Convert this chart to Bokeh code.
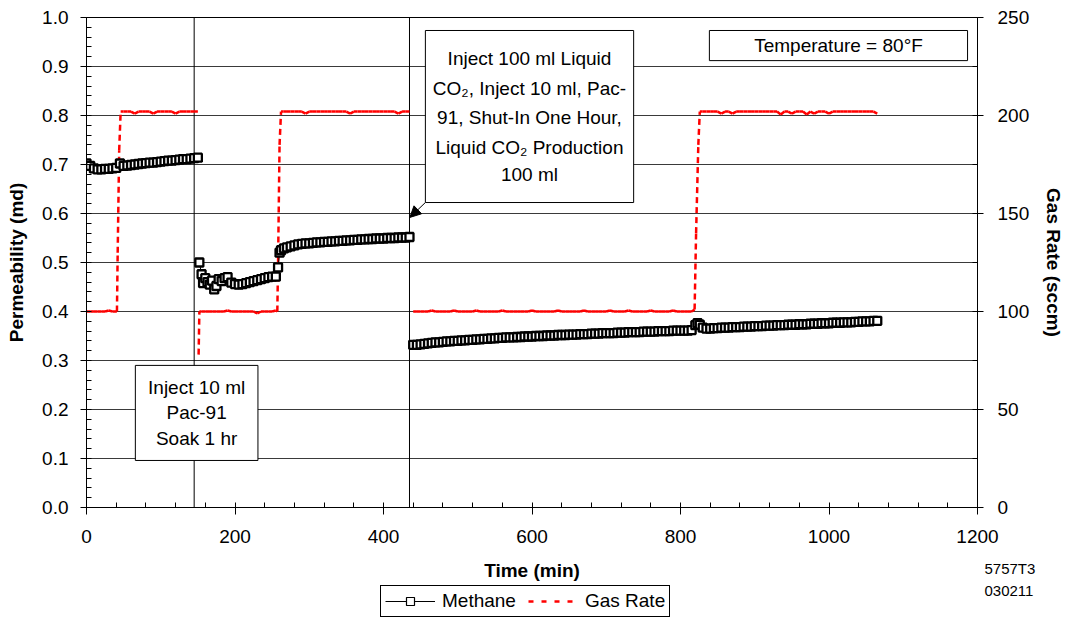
from bokeh.plotting import figure
from bokeh.layouts import column
from bokeh.models import (Range1d, LinearAxis, SingleIntervalTicker, PrintfTickFormatter,
                          FixedTicker, Span, BoxAnnotation, Label, Arrow, NormalHead, Legend,
                          LegendItem, ColumnDataSource)
from bokeh.embed import file_html
from bokeh.resources import INLINE

# ---------------- data ----------------
# Methane permeability (md), three test periods
meth1_t = [0, 5, 10, 15, 20, 25, 30, 35, 40, 45, 50, 55, 60, 65, 70, 75, 80, 85, 90, 95,
           100, 105, 110, 115, 120, 125, 130, 135, 140, 145, 150]
meth1_k = [0.702, 0.697, 0.692, 0.690, 0.690, 0.691, 0.691, 0.692, 0.693, 0.702,
           0.697, 0.698, 0.699, 0.700, 0.701, 0.702, 0.703, 0.704, 0.704, 0.705,
           0.706, 0.707, 0.708, 0.708, 0.709, 0.710, 0.711, 0.711, 0.712, 0.713, 0.714]

meth2_t = [152, 155, 157, 160, 163, 166, 169, 172, 175, 178,
           182, 186, 190, 195, 200, 205, 210, 215, 220, 225,
           230, 235, 240, 245, 250, 255, 258, 260, 262, 266,
           270, 275, 280, 285,
           290, 295, 300, 305, 310, 315, 320, 325, 330, 335,
           340, 345, 350, 355, 360, 365, 370, 375, 380, 385,
           390, 395, 400, 405, 410, 415, 420, 425, 430, 435]
meth2_k = [0.500, 0.476, 0.458, 0.468, 0.460, 0.455, 0.463, 0.445, 0.452, 0.466,
           0.462, 0.468, 0.470, 0.459, 0.456, 0.455, 0.456, 0.458, 0.460, 0.462,
           0.464, 0.466, 0.468, 0.470, 0.471, 0.471, 0.490, 0.520, 0.525, 0.529,
           0.531, 0.533, 0.535, 0.537,
           0.538, 0.539, 0.539, 0.540, 0.541, 0.541, 0.542, 0.542, 0.543, 0.543,
           0.544, 0.544, 0.545, 0.545, 0.546, 0.546, 0.547, 0.547, 0.548, 0.548,
           0.549, 0.549, 0.549, 0.550, 0.550, 0.550, 0.551, 0.551, 0.551, 0.552]

meth3_t = [440, 445, 450, 455, 460, 465, 470, 475, 480, 485,
           490, 495, 500, 505, 510, 515, 520, 525, 530, 535,
           540, 545, 550, 555, 560, 565, 570, 575, 580, 585,
           590, 595, 600, 605, 610, 615, 620, 625, 630, 635,
           640, 645, 650, 655, 660, 665, 670, 675, 680, 685,
           690, 695, 700, 705, 710, 715, 720, 725, 730, 735,
           740, 745, 750, 755, 760, 765, 770, 775, 780, 785,
           790, 795, 800, 805, 810, 815,
           820, 823, 826,
           830, 835, 840, 845, 850, 855, 860, 865, 870, 875,
           880, 885, 890, 895, 900, 905, 910, 915, 920, 925,
           930, 935, 940, 945, 950, 955, 960, 965, 970, 975,
           980, 985, 990, 995, 1000, 1005, 1010, 1015, 1020, 1025,
           1030, 1035, 1040, 1045, 1050, 1055, 1060, 1065]
meth3_k = [0.332, 0.332, 0.333, 0.334, 0.335, 0.336, 0.337, 0.337, 0.338, 0.339,
           0.339, 0.340, 0.340, 0.341, 0.341, 0.342, 0.342, 0.343, 0.343, 0.344,
           0.344, 0.345, 0.345, 0.346, 0.346, 0.347, 0.347, 0.347, 0.348, 0.348,
           0.349, 0.349, 0.349, 0.350, 0.350, 0.350, 0.351, 0.351, 0.351, 0.352,
           0.352, 0.352, 0.353, 0.353, 0.353, 0.354, 0.354, 0.354, 0.355, 0.355,
           0.355, 0.356, 0.356, 0.356, 0.356, 0.357, 0.357, 0.357, 0.358, 0.358,
           0.358, 0.358, 0.359, 0.359, 0.359, 0.359, 0.360, 0.360, 0.360, 0.360,
           0.361, 0.361, 0.361, 0.361, 0.361, 0.362,
           0.372, 0.376, 0.373,
           0.367, 0.365, 0.365, 0.366, 0.366, 0.367, 0.367, 0.367, 0.368, 0.368,
           0.368, 0.369, 0.369, 0.369, 0.370, 0.370, 0.370, 0.371, 0.371, 0.371,
           0.372, 0.372, 0.372, 0.373, 0.373, 0.373, 0.374, 0.374, 0.374, 0.375,
           0.375, 0.375, 0.376, 0.376, 0.376, 0.377, 0.377, 0.377, 0.378, 0.378,
           0.378, 0.379, 0.379, 0.380, 0.380, 0.380, 0.381, 0.381]

# Gas rate (sccm), three periods
gas1_t = [0, 5, 10, 15, 20, 25, 30, 35, 40,
          41, 42, 44, 46,
          50, 55, 60, 65, 70, 75, 80, 85, 90, 95,
          100, 105, 110, 115, 120, 125, 130, 135, 140, 145, 150]
gas1_q = [100, 100, 100, 100, 100, 100, 100.5, 100, 100,
          100, 130, 182, 202,
          202, 202, 202, 201, 202, 202, 202, 202, 201, 202,
          202, 202, 202, 202, 201, 202, 202, 202, 202, 202, 202]

gas2_t = [151, 152,
          155, 160, 165, 170, 175, 180, 185, 190, 195, 200,
          205, 210, 215, 220, 225, 230, 235, 240, 245, 250, 255,
          257, 258, 260, 262, 265,
          270, 275, 280, 285, 290, 295, 300, 305, 310, 315,
          320, 325, 330, 335, 340, 345, 350, 355, 360, 365,
          370, 375, 380, 385, 390, 395, 400, 405, 410, 415,
          420, 425, 430, 435]
gas2_q = [78, 100,
          100, 100, 100, 100, 100, 100, 100, 100.5, 100, 100,
          100, 100, 100, 100, 100, 99, 100, 100, 100, 100, 100.5,
          100, 125, 185, 202, 202,
          202, 202, 202, 202, 202, 201, 202, 202, 202, 202,
          202, 202, 202, 202, 202, 202, 202, 201, 202, 202,
          202, 202, 202, 202, 202, 202, 202, 202, 202, 202,
          201, 202, 202, 202]

gas3_t = [440, 445, 450, 455, 460, 465, 470, 475, 480, 485,
          490, 495, 500, 505, 510, 515, 520, 525, 530, 535,
          540, 545, 550, 555, 560, 565, 570, 575, 580, 585,
          590, 595, 600, 605, 610, 615, 620, 625, 630, 635,
          640, 645, 650, 655, 660, 665, 670, 675, 680, 685,
          690, 695, 700, 705, 710, 715, 720, 725, 730, 735,
          740, 745, 750, 755, 760, 765, 770, 775, 780, 785,
          790, 795, 800, 805, 810, 815,
          819, 821, 824, 826,
          830, 835, 840, 845, 850, 855, 860, 865, 870, 875,
          880, 885, 890, 895, 900, 905, 910, 915, 920, 925,
          930, 935, 940, 945, 950, 955, 960, 965, 970, 975,
          980, 985, 990, 995, 1000, 1005, 1010, 1015, 1020, 1025,
          1030, 1035, 1040, 1045, 1050, 1055, 1060, 1065]
gas3_q = [100, 100, 100, 100, 100, 100.5, 100, 100, 100, 100,
          100, 100.5, 100, 100, 100, 100, 100, 100.5, 100, 100,
          100, 100, 100, 100, 100.5, 100, 100, 100, 100, 100,
          100, 100, 100.5, 100, 100, 100, 100, 100, 100, 100.5,
          100, 100, 100, 100, 100, 100, 100.5, 100, 100, 100,
          100, 100, 100, 100.5, 100, 100, 100, 100, 100.5, 100,
          100, 100, 100, 100, 100.5, 100, 100, 100, 100, 100,
          100.5, 100, 100, 100, 100, 100,
          101, 140, 185, 202,
          202, 202, 202, 202, 202, 201, 202, 202, 201, 202,
          202, 202, 202, 202, 202, 202, 202, 202, 202, 202,
          202, 200.5, 202, 202, 201, 202, 202, 202, 200.5, 202,
          201, 202, 202, 202, 201, 202, 202, 202, 202, 202,
          202, 202, 202, 202, 202, 202, 202, 201]

event_times = [145, 435]
drawing_id = ["5757T3", "030211"]
FONT = "Liberation Sans"

# ---------------- main figure ----------------
p = figure(width=1067, height=554, x_range=Range1d(0, 1200), y_range=Range1d(0, 1.0),
           output_backend="svg", toolbar_location=None,
           min_border_left=86, min_border_right=87, min_border_top=17, min_border_bottom=47,
           background_fill_color="white", border_fill_color="white")
p.outline_line_color = "black"
p.outline_line_width = 1
p.xgrid.visible = False

yticker = SingleIntervalTicker(interval=0.1, num_minor_ticks=5)
p.yaxis.ticker = yticker
p.ygrid.ticker = yticker
p.ygrid.grid_line_color = "#3a3a3a"
p.ygrid.grid_line_width = 1
p.yaxis.formatter = PrintfTickFormatter(format="%.1f")
p.xaxis.ticker = SingleIntervalTicker(interval=200, num_minor_ticks=5)

p.extra_y_ranges = {"gas": Range1d(0, 250)}
ax_r = LinearAxis(y_range_name="gas", ticker=SingleIntervalTicker(interval=50, num_minor_ticks=2))
p.add_layout(ax_r, "right")

for ax in [p.xaxis[0], p.yaxis[0], ax_r]:
    ax.axis_line_color = "black"
    ax.major_tick_line_color = "black"
    ax.minor_tick_line_color = "black"
    ax.major_tick_in = 0
    ax.major_tick_out = 6
    ax.minor_tick_in = 5
    ax.minor_tick_out = 0
    ax.major_label_text_font = FONT
    ax.major_label_text_font_size = "19px"
    ax.major_label_text_color = "black"
    ax.axis_label_text_font = FONT
    ax.axis_label_text_font_size = "19px"
    ax.axis_label_text_font_style = "bold"
    ax.axis_label_text_color = "black"

p.xaxis.major_tick_out = 7
p.xaxis.major_label_standoff = 15
p.yaxis.axis_label = "Permeability (md)"
p.yaxis.major_label_standoff = 12
p.yaxis.axis_label_standoff = 12
ax_r.axis_label = "Gas Rate (sccm)"
ax_r.major_label_standoff = 14
ax_r.axis_label_standoff = 11

for et in event_times:
    p.add_layout(Span(location=et, dimension="height", line_color="black",
                      line_width=1, level="underlay"))

# gas rate: every sample-to-sample step is its own dashed stroke
gxs, gys = [], []
for ts, qs in [(gas1_t, gas1_q), (gas2_t, gas2_q), (gas3_t, gas3_q)]:
    for i in range(len(ts) - 1):
        gxs.append([ts[i], ts[i + 1]])
        gys.append([qs[i], qs[i + 1]])
p.multi_line(xs=gxs, ys=gys, y_range_name="gas", line_color="red",
             line_width=2.5, line_dash="6 4")

nan = float("nan")
mt = meth1_t + [nan] + meth2_t + [nan] + meth3_t
mk = meth1_k + [nan] + meth2_k + [nan] + meth3_k
msrc = ColumnDataSource(dict(t=mt, k=mk))
p.line("t", "k", source=msrc, line_color="black", line_width=1)
p.scatter("t", "k", source=msrc, marker="square", size=8, fill_color="white",
          line_color="black", line_width=2.3)

def box(l, r, b, t):
    p.add_layout(BoxAnnotation(left=l, right=r, bottom=b, top=t, fill_color="white",
                               fill_alpha=1, line_color="black", line_alpha=1, line_width=1))

def txt(fig, x, y, s, size="19px", align="center", style="normal"):
    fig.add_layout(Label(x=x, y=y, text=s, text_align=align, text_baseline="middle",
                         text_font=FONT, text_font_size=size, text_font_style=style,
                         text_color="black"))

box(65.8, 230.9, 0.096, 0.290)
for y, s in [(0.2449, "Inject 10 ml"), (0.1939, "Pac-91"), (0.1408, "Soak 1 hr")]:
    txt(p, 148.3, y, s)

box(456.4, 736.9, 0.6224, 0.9735)
for y, s in [(0.9163, "Inject 100 ml Liquid"), (0.8551, "CO\u2082, Inject 10 ml, Pac-"),
             (0.7959, "91, Shut-In One Hour,"), (0.7347, "Liquid CO\u2082 Production"),
             (0.6796, "100 ml")]:
    txt(p, 596.6, y, s)

p.add_layout(Arrow(end=NormalHead(size=11, fill_color="black", line_color="black"),
                   x_start=456.4, y_start=0.6224, x_end=435.5, y_end=0.592,
                   line_color="black", line_width=1))

box(838.9, 1186.6, 0.912, 0.9735)
txt(p, 1012.8, 0.9429, "Temperature = 80\u00b0F")

# ---------------- bottom strip: axis title, legend, drawing id ----------------
p2 = figure(width=1067, height=73, x_range=Range1d(86, 980), y_range=Range1d(73, 0),
            output_backend="svg", toolbar_location=None, x_axis_type=None, y_axis_type=None,
            min_border_left=86, min_border_right=87, min_border_top=0, min_border_bottom=0,
            outline_line_color=None, background_fill_color="white", border_fill_color="white")
p2.grid.visible = False

txt(p2, 533, 16, "Time (min)", style="bold")

# drawing id shown as tick labels of a bare axis on the right of the strip
id_axis = LinearAxis(ticker=FixedTicker(ticks=[14, 36]),
                     major_label_overrides={14: drawing_id[0], 36: drawing_id[1]},
                     axis_line_color=None, major_tick_line_color=None,
                     minor_tick_line_color=None, major_tick_in=0, major_tick_out=0,
                     major_label_standoff=7, major_label_text_font=FONT,
                     major_label_text_font_size="15px", major_label_text_color="black")
p2.add_layout(id_axis, "right")

off = [-1000]
lg_m_line = p2.line(x=off, y=off, line_color="black", line_width=1)
lg_m_sc = p2.scatter(x=off, y=off, marker="square", size=8, fill_color="white",
                     line_color="black", line_width=1.2)
lg_gas = p2.line(x=off, y=off, line_color="red", line_width=2.5, line_dash="5 8")

legend = Legend(items=[LegendItem(label="Methane", renderers=[lg_m_line, lg_m_sc]),
                       LegendItem(label="Gas Rate", renderers=[lg_gas])],
                orientation="horizontal", location=(294, 10),
                border_line_color="black", border_line_width=1, border_line_alpha=1,
                background_fill_color="white", background_fill_alpha=1,
                label_text_font=FONT, label_text_font_size="19px", label_text_color="black",
                glyph_width=50, glyph_height=20, label_height=20, padding=4, spacing=12,
                label_standoff=7, margin=0)
p2.add_layout(legend)

layout = column(p, p2, spacing=0)
open("out.html", "w").write(file_html(layout, INLINE))
